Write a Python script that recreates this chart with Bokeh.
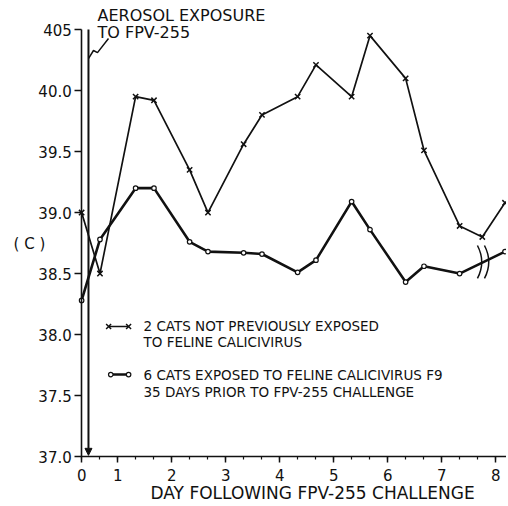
from bokeh.plotting import figure
from bokeh.embed import file_html
from bokeh.resources import INLINE
from bokeh.models import (FixedTicker, CustomJSTickFormatter, Label, Arrow,
                          NormalHead, Range1d)

# ---- data ----
days_naive = [0.33, 0.67, 1.33, 1.67, 2.33, 2.67, 3.33, 3.67, 4.33, 4.67,
              5.33, 5.67, 6.33, 6.67, 7.33, 7.75, 8.17]
temp_naive = [39.0, 38.5, 39.95, 39.92, 39.35, 39.0, 39.56, 39.8, 39.95, 40.21,
              39.95, 40.45, 40.1, 39.51, 38.89, 38.8, 39.08]
days_exposed = [0.33, 0.67, 1.33, 1.67, 2.33, 2.67, 3.33, 3.67, 4.33, 4.67,
                5.33, 5.67, 6.33, 6.67, 7.33, 8.17]
temp_exposed = [38.28, 38.78, 39.2, 39.2, 38.76, 38.68, 38.67, 38.66, 38.51, 38.61,
                39.09, 38.86, 38.43, 38.56, 38.5, 38.68]
x_major_ticks = [0.333, 1, 2, 3, 4, 5, 6, 7, 8]
x_minor_ticks = [0.333 + i / 3 for i in range(24)]
y_ticks = [37.0, 37.5, 38.0, 38.5, 39.0, 39.5, 40.0, 40.5]
exposure_day = 0.457
break_days = [7.68, 7.81]
break_temp = 38.595

legend_naive = ["2 CATS NOT PREVIOUSLY EXPOSED", "TO FELINE CALICIVIRUS"]
legend_exposed = ["6 CATS EXPOSED TO FELINE CALICIVIRUS F9",
                  "35 DAYS PRIOR TO FPV-255 CHALLENGE"]
annotation_lines = ["AEROSOL EXPOSURE", "TO FPV-255"]
x_title = "DAY FOLLOWING FPV-255 CHALLENGE"
y_title = "( C )"

FONT = "DejaVu Sans"
INK = "#111111"

X0, X1 = 0.333, 8.2      # extent of the day axis
Y0, Y1 = 37.0, 40.5      # extent of the temperature axis

p = figure(width=506, height=504, output_backend="svg", toolbar_location=None,
           x_range=Range1d(-1.172, 8.198), y_range=Range1d(36.607, 40.738),
           min_border=0)
p.title.visible = False
p.outline_line_color = None
p.grid.visible = False
p.background_fill_color = "white"
p.border_fill_color = "white"

# axes (drawn at fixed data positions so the surrounding texts stay inside the frame)
xa = p.xaxis[0]
xa.fixed_location = Y0
xa.bounds = (X0, X1)
xa.ticker = FixedTicker(ticks=x_major_ticks, minor_ticks=x_minor_ticks)
xa.formatter = CustomJSTickFormatter(code="return tick < 0.5 ? '0' : tick.toFixed(0);")
xa.major_tick_out = 6
xa.major_tick_in = 0
xa.minor_tick_out = 3
xa.minor_tick_in = 0
xa.major_label_standoff = 6
ya = p.yaxis[0]
ya.fixed_location = X0
ya.bounds = (Y0, Y1)
ya.ticker = FixedTicker(ticks=y_ticks, minor_ticks=[])
ya.formatter = CustomJSTickFormatter(code="return tick > 40.4 ? '405' : tick.toFixed(1);")
ya.major_tick_out = 7
ya.major_tick_in = 0
ya.major_label_standoff = 3
for ax in (xa, ya):
    ax.axis_line_width = 1.6
    ax.axis_line_color = INK
    ax.major_tick_line_width = 1.5
    ax.major_tick_line_color = INK
    ax.minor_tick_line_width = 1.2
    ax.minor_tick_line_color = INK
    ax.major_label_text_font = FONT
    ax.major_label_text_font_size = "15px"
    ax.major_label_text_color = INK

# series
p.line(days_naive, temp_naive, line_color=INK, line_width=1.7)
p.scatter(days_naive, temp_naive, marker="x", size=7.5, line_color=INK, line_width=1.5)
p.line(days_exposed, temp_exposed, line_color=INK, line_width=2.6)
p.scatter(days_exposed, temp_exposed, marker="circle", size=4.5, fill_color="white",
          line_color=INK, line_width=1.2)

# axis break marks
for bx in break_days:
    p.bezier(x0=[bx - 0.02], y0=[break_temp + 0.135], x1=[bx - 0.02], y1=[break_temp - 0.135],
             cx0=[bx + 0.08], cy0=[break_temp + 0.05], cx1=[bx + 0.08], cy1=[break_temp - 0.05],
             line_color=INK, line_width=1.5)

# exposure arrow
p.add_layout(Arrow(x_start=exposure_day, y_start=Y1, x_end=exposure_day, y_end=Y0 + 0.01,
                   line_color=INK, line_width=2,
                   end=NormalHead(size=7, fill_color=INK, line_color=INK)))
# squiggle leader
p.line([exposure_day, exposure_day + 0.093, exposure_day + 0.167, exposure_day + 0.371],
       [40.262, 40.328, 40.311, 40.426], line_color=INK, line_width=1.5)

def txt(x, y, s, size="14px", align="left"):
    p.add_layout(Label(x=x, y=y, text=s, text_font=FONT, text_font_size=size,
                       text_color=INK, text_align=align, text_baseline="middle"))

txt(0.624, 40.615, annotation_lines[0], size="16px")
txt(0.624, 40.475, annotation_lines[1], size="16px")
txt(-0.931, 38.746, y_title, size="15px")
txt(1.606, 36.70, x_title, size="17px")

# legend
p.line([0.83, 1.2], [38.066, 38.066], line_color=INK, line_width=1.7)
p.scatter([0.83, 1.2], [38.066, 38.066], marker="x", size=7, line_color=INK, line_width=1.5)
p.line([0.87, 1.2], [37.672, 37.672], line_color=INK, line_width=2.6)
p.scatter([0.87, 1.2], [37.672, 37.672], marker="circle", size=4.5, fill_color="white",
          line_color=INK, line_width=1.2)
txt(1.476, 38.066, legend_naive[0], size="13.5px")
txt(1.476, 37.943, legend_naive[1], size="13.5px")
txt(1.476, 37.672, legend_exposed[0], size="13.5px")
txt(1.476, 37.533, legend_exposed[1], size="13.5px")

open("out.html", "w").write(file_html(p, INLINE))
